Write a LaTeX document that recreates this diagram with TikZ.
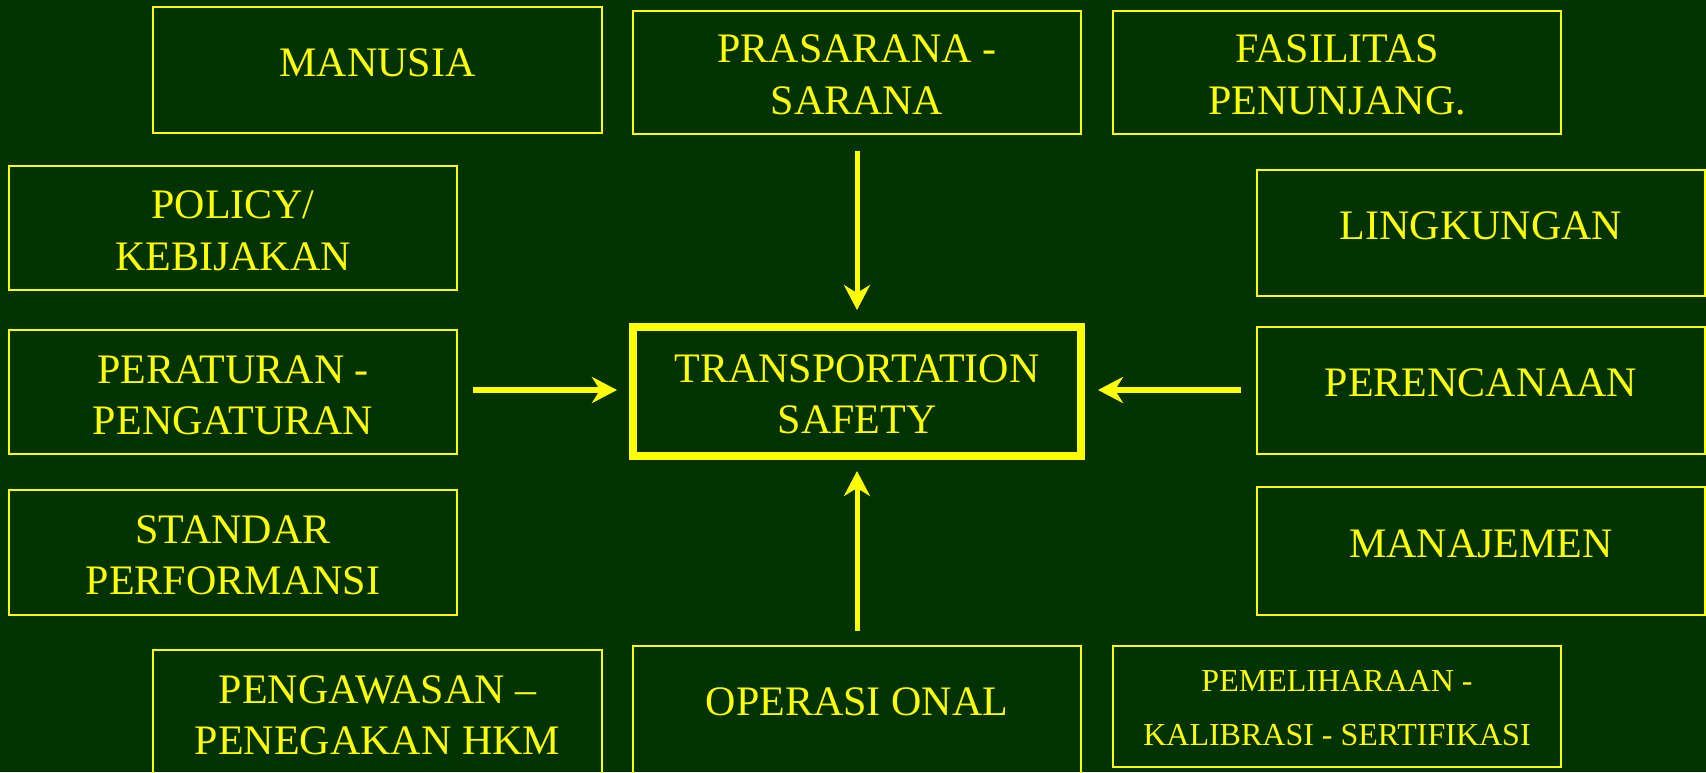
\documentclass[tikz,border=0pt]{standalone}
\usepackage{fontspec}
\setmainfont{Liberation Serif}
\usetikzlibrary{arrows.meta}

\definecolor{bgreen}{HTML}{003300}
\definecolor{yel}{HTML}{FFFF00}

\begin{document}
\begin{tikzpicture}[x=1pt,y=-1pt,
  bx/.style={draw=yel, line width=2pt, inner sep=0pt, outer sep=0pt, minimum width=448pt},
  hub/.style={draw=yel, line width=8pt, inner sep=0pt, outer sep=0pt, minimum width=448pt},
  txt/.style={text=yel, inner sep=0pt, anchor=base, font=\fontsize{42}{50}\selectfont},
  small/.style={txt, font=\fontsize{32}{38}\selectfont},
  arr/.style={draw=yel, -{Stealth[length=25pt,width=26pt,inset=8pt]}},
]
% background
\fill[bgreen] (0,0) rectangle (1706,772);
\useasboundingbox (0,0) rectangle (1706,772);

% boxes
\node[bx, minimum width=449pt, minimum height=126pt] (manusia) at (377.5,70) {};
\node[bx, minimum height=123pt] (prasarana) at (857,72.5) {};
\node[bx, minimum height=123pt] (fasilitas) at (1337,72.5) {};
\node[bx, minimum height=124pt] (policy) at (233,228) {};
\node[bx, minimum height=126pt] (lingkungan) at (1481,233) {};
\node[bx, minimum height=124pt] (peraturan) at (233,392) {};
\node[hub, minimum height=129pt] (safety) at (857,391.5) {};
\node[bx, minimum height=127pt] (perencanaan) at (1481,390.5) {};
\node[bx, minimum height=125pt] (standar) at (233,552.5) {};
\node[bx, minimum height=128pt] (manajemen) at (1481,551) {};
\node[bx, minimum width=449pt, minimum height=140pt] (pengawasan) at (377.5,720) {};
\node[bx, minimum height=144pt] (operasi) at (857,718) {};
\node[bx, minimum height=121pt] (pemeliharaan) at (1337,706.5) {};

% labels
\node[txt] (manusiaT) at (377.5,76) {MANUSIA};
\node[txt] (prasaranaT1) at (857,62) {PRASARANA -};
\node[txt] (prasaranaT2) at (857,114) {SARANA};
\node[txt] (fasilitasT1) at (1337,62) {FASILITAS};
\node[txt] (fasilitasT2) at (1337,114) {PENUNJANG.};
\node[txt] (policyT1) at (233,218) {POLICY/};
\node[txt] (policyT2) at (233,270) {KEBIJAKAN};
\node[txt] (lingkunganT) at (1481,239) {LINGKUNGAN};
\node[txt] (peraturanT1) at (233,383) {PERATURAN -};
\node[txt] (peraturanT2) at (233,434) {PENGATURAN};
\node[txt] (safetyT1) at (857,382) {TRANSPORTATION};
\node[txt] (safetyT2) at (857,433) {SAFETY};
\node[txt] (perencanaanT) at (1481,396) {PERENCANAAN};
\node[txt] (standarT1) at (233,543) {STANDAR};
\node[txt] (standarT2) at (233,594) {PERFORMANSI};
\node[txt] (manajemenT) at (1481,557) {MANAJEMEN};
\node[txt] (pengawasanT1) at (377.5,703) {PENGAWASAN –};
\node[txt] (pengawasanT2) at (377.5,754) {PENEGAKAN HKM};
\node[txt] (operasiT) at (857,715) {OPERASI ONAL};
\node[small] (pemeliharaanT1) at (1337,691) {PEMELIHARAAN -};
\node[small] (pemeliharaanT2) at (1337,745) {KALIBRASI - SERTIFIKASI};

% arrows into the hub
\draw[arr, line width=5pt, shorten <=17pt, shorten >=17pt] (prasarana.south) -- (safety.north);
\draw[arr, line width=5pt, shorten <=15pt, shorten >=15pt] (operasi.north) -- (safety.south);
\draw[arr, line width=6pt, shorten <=16pt, shorten >=16pt]
  ([yshift=1.5pt]peraturan.east |- safety.west) -- ([yshift=1.5pt]safety.west);
\draw[arr, line width=6pt, shorten <=16pt, shorten >=17pt]
  ([yshift=1.5pt]perencanaan.west |- safety.east) -- ([yshift=1.5pt]safety.east);
\end{tikzpicture}
\end{document}
